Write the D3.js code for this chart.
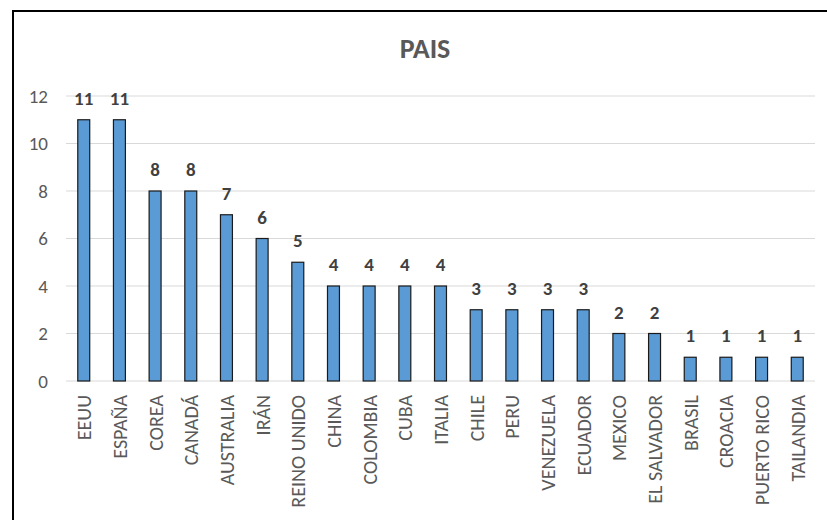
<!DOCTYPE html>
<html>
<head>
<meta charset="utf-8">
<script src="https://cdn.jsdelivr.net/npm/d3@7"></script>
<style>
  body { margin: 0; background: #fff; }
  text { font-family: Calibri, Carlito, Lato, "Liberation Sans", sans-serif; }
</style>
</head>
<body>
<svg width="827" height="520"></svg>
<script>
const paises = ["EEUU", "ESPAÑA", "COREA", "CANADÁ", "AUSTRALIA", "IRÁN", "REINO UNIDO",
  "CHINA", "COLOMBIA", "CUBA", "ITALIA", "CHILE", "PERU", "VENEZUELA", "ECUADOR",
  "MEXICO", "EL SALVADOR", "BRASIL", "CROACIA", "PUERTO RICO", "TAILANDIA"];
const valores = [11, 11, 8, 8, 7, 6, 5, 4, 4, 4, 4, 3, 3, 3, 3, 2, 2, 1, 1, 1, 1];
const yTicks = [0, 2, 4, 6, 8, 10, 12];

const fontStack = "Calibri, Carlito, Lato, 'Liberation Sans', sans-serif";
const svg = d3.select("svg");

// chart frame (runs off the right/bottom edge)
svg.append("rect")
  .attr("x", 13).attr("y", 11)
  .attr("width", 830).attr("height", 530)
  .attr("fill", "none")
  .attr("stroke", "#000")
  .attr("stroke-width", 2);

const x = d3.scaleBand().domain(paises).range([66, 815]).paddingInner(0.665).paddingOuter(0.33);
const y = d3.scaleLinear().domain([0, 12]).range([381, 96]);

svg.append("text")
  .attr("x", 425).attr("y", 58)
  .attr("text-anchor", "middle")
  .attr("font-size", 28).attr("font-weight", "bold")
  .attr("fill", "#595959")
  .text("PAIS");

// gridlines
svg.append("g").selectAll("line")
  .data(yTicks)
  .enter().append("line")
  .attr("x1", 66).attr("x2", 815)
  .attr("y1", d => y(d)).attr("y2", d => y(d))
  .attr("stroke", "#d9d9d9").attr("stroke-width", 1);

const yAxis = d3.axisLeft(y).tickValues(yTicks).tickSize(0).tickPadding(0);
svg.append("g")
  .attr("transform", "translate(48,0)")
  .call(yAxis)
  .call(g => g.select(".domain").remove())
  .selectAll("text")
  .attr("font-size", 19)
  .attr("fill", "#595959")
  .attr("font-family", fontStack);

svg.append("g").selectAll("rect")
  .data(valores)
  .enter().append("rect")
  .attr("x", (d, i) => x(paises[i]))
  .attr("y", d => y(d))
  .attr("width", x.bandwidth())
  .attr("height", d => y(0) - y(d))
  .attr("fill", "#5b9bd5")
  .attr("stroke", "#1a1a1a")
  .attr("stroke-width", 1.2);

svg.append("g").selectAll("text")
  .data(valores)
  .enter().append("text")
  .attr("x", (d, i) => x(paises[i]) + x.bandwidth() / 2)
  .attr("y", d => y(d) - 15)
  .attr("text-anchor", "middle")
  .attr("font-size", 19).attr("font-weight", "bold")
  .attr("fill", "#404040")
  .text(d => d);

const xAxis = d3.axisBottom(x).tickSize(0).tickPadding(0);
svg.append("g")
  .attr("transform", "translate(0,381)")
  .call(xAxis)
  .call(g => g.select(".domain").remove())
  .selectAll("text")
  .attr("font-size", 20)
  .attr("fill", "#595959")
  .attr("font-family", fontStack)
  .attr("text-anchor", "end")
  .attr("dy", "0.32em")
  .attr("transform", "translate(1,14) rotate(-90)")
  .attr("x", 0).attr("y", 0);
</script>
</body>
</html>
